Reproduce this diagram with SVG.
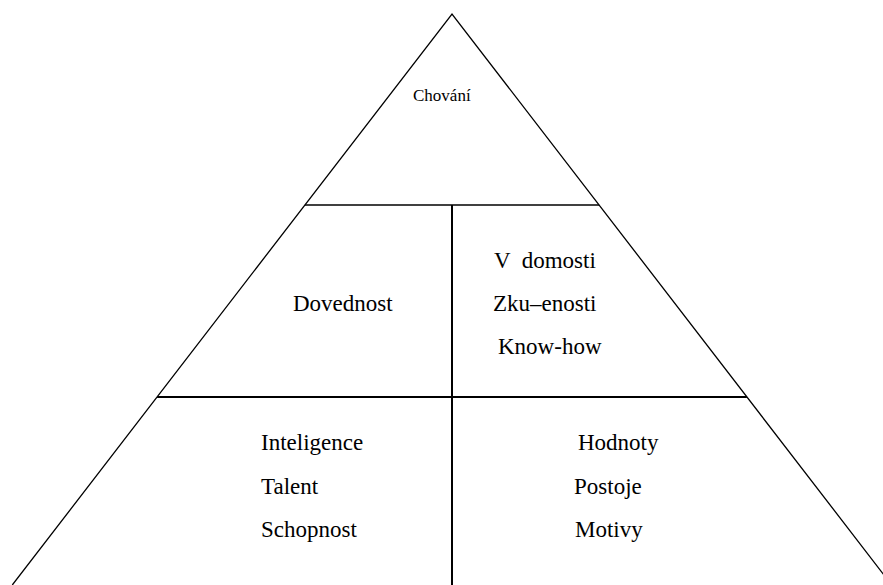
<svg xmlns="http://www.w3.org/2000/svg" width="883" height="585" viewBox="0 0 883 585">
<style>
.ln{stroke:#000;fill:none}
.t{font-family:"Liberation Serif","Times New Roman","DejaVu Serif",serif;font-size:23px;fill:#000}
.s{font-size:17px}
</style>
<rect width="883" height="585" fill="#fff"/>
<g id="connectors">
<path class="ln" stroke-width="1.3" d="M12.3,585 L452,14 L891.7,585"/>
<line class="ln" stroke-width="1.5" x1="304.9" y1="205" x2="599.1" y2="205"/>
<line class="ln" stroke-width="2" x1="157.1" y1="397" x2="746.9" y2="397"/>
<line class="ln" stroke-width="2" x1="452" y1="205" x2="452" y2="585"/>
</g>
<g id="chovani"><text class="t s" x="413" y="101">Chování</text></g>
<g id="dovednost"><text class="t" x="293" y="311">Dovednost</text></g>
<g id="vedomosti">
<text class="t" x="494" y="268" xml:space="preserve">V  domosti</text>
<text class="t" x="493" y="311">Zku–enosti</text>
<text class="t" x="498" y="354">Know-how</text>
</g>
<g id="inteligence">
<text class="t" x="261" y="450">Inteligence</text>
<text class="t" x="261" y="494">Talent</text>
<text class="t" x="261" y="537">Schopnost</text>
</g>
<g id="hodnoty">
<text class="t" x="578" y="450">Hodnoty</text>
<text class="t" x="574" y="494">Postoje</text>
<text class="t" x="575" y="537">Motivy</text>
</g>
</svg>
